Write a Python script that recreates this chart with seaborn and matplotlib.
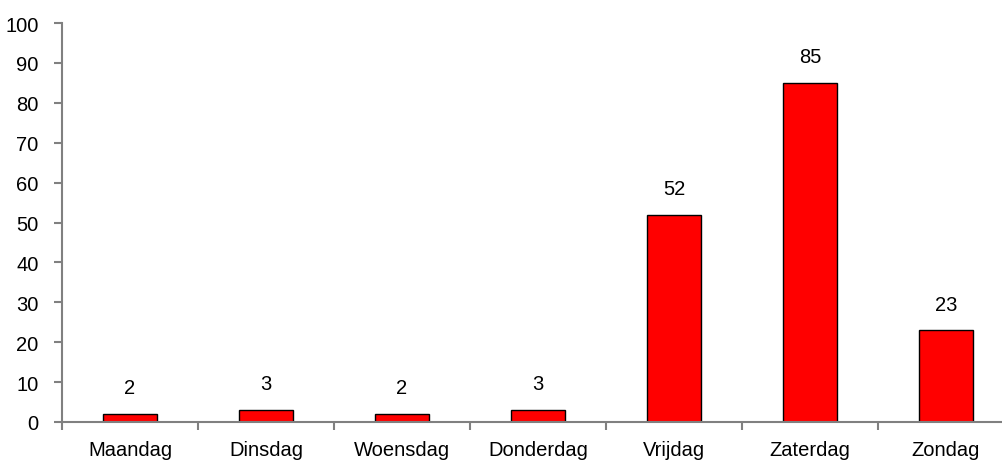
import matplotlib
matplotlib.use('Agg')
import matplotlib.pyplot as plt
import seaborn as sns
import numpy as np

# data
days = ["Maandag", "Dinsdag", "Woensdag", "Donderdag", "Vrijdag", "Zaterdag", "Zondag"]
counts = [2, 3, 2, 3, 52, 85, 23]

sns.set_style("white")
plt.rcParams['font.family'] = ['Liberation Sans', 'DejaVu Sans']
plt.rcParams['text.color'] = 'black'
plt.rcParams['xtick.color'] = 'black'
plt.rcParams['ytick.color'] = 'black'

fig = plt.figure(figsize=(10.02, 4.64), dpi=100)
# axes runs slightly past the right edge, like the original
ax = fig.add_axes([62 / 1002, 41 / 464, (1014 - 62) / 1002, (423 - 24) / 464])

sns.barplot(x=days, y=counts, color="#ff0000", edgecolor="black", linewidth=1,
            width=0.40, saturation=1, ax=ax)

for i, v in enumerate(counts):
    ax.annotate(str(v), (i, v), xytext=(0, 12), textcoords="offset points",
                ha="center", va="bottom", fontsize=14.5, color="black")

ax.set_xlim(-0.5, len(days) - 0.5)
ax.set_ylim(0, 100)
ax.set_yticks(np.arange(0, 101, 10))

# category separators as ticks
ax.set_xticks(np.arange(-0.5, len(days), 1.0), minor=True)
ax.tick_params(axis='x', which='major', bottom=False, length=0, pad=13, labelsize=14.5,
               labelcolor="black")
ax.tick_params(axis='x', which='minor', bottom=True, length=6, width=1.5, color="#808080",
               direction='out')
ax.tick_params(axis='y', length=6, width=1.5, color="#808080", pad=11, labelsize=14.5,
               labelcolor="black", direction='out', left=True)

for s in ["top", "right"]:
    ax.spines[s].set_visible(False)
for s in ["left", "bottom"]:
    ax.spines[s].set_color("#808080")
    ax.spines[s].set_linewidth(1.5)

ax.set_xlabel("")
ax.set_ylabel("")

fig.savefig("out.png", dpi=100)
